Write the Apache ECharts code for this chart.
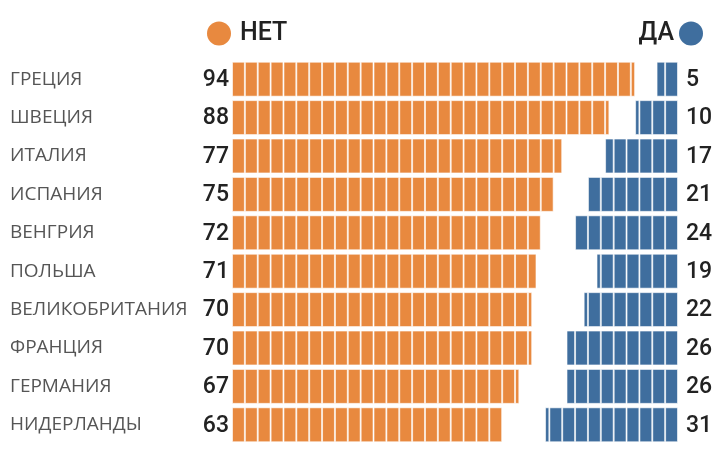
<!DOCTYPE html>
<html>
<head>
<meta charset="utf-8">
<script src="https://cdn.jsdelivr.net/npm/echarts@6/dist/echarts.min.js"></script>
<style>
  html, body { margin: 0; padding: 0; background: #fff; }
  #main { width: 713px; height: 449px; }
</style>
</head>
<body>
<div id="main"></div>
<script>
// страны сверху вниз
var countries = ['ГРЕЦИЯ', 'ШВЕЦИЯ', 'ИТАЛИЯ', 'ИСПАНИЯ', 'ВЕНГРИЯ', 'ПОЛЬША',
    'ВЕЛИКОБРИТАНИЯ', 'ФРАНЦИЯ', 'ГЕРМАНИЯ', 'НИДЕРЛАНДЫ'];
var netValues = [94, 88, 77, 75, 72, 71, 70, 70, 67, 63];
var daValues = [5, 10, 17, 21, 24, 19, 22, 26, 26, 31];

var axisMax = 104;
var step = 3; // одна плашка = 3 пункта
var font = 'Roboto';

// рисуем полосу из плашек по step пунктов
function makeRender(color, labelSide) {
    return function (params, api) {
        var value = api.value(0);
        var idx = api.value(1);
        var h = api.size([0, 1])[1] * 0.91;
        var children = [];
        for (var s = 0; s < value; s += step) {
            var e = Math.min(s + step, value);
            var p0 = api.coord([s, idx]);
            var p1 = api.coord([e, idx]);
            var x0 = Math.min(p0[0], p1[0]);
            children.push({
                type: 'rect',
                shape: { x: x0 + 0.5, y: p0[1] - h / 2 + 0.5, width: Math.abs(p1[0] - p0[0]) - 1, height: h - 1 },
                style: { fill: color, stroke: 'rgba(255,255,255,0.6)', lineWidth: 1 }
            });
        }
        var base = api.coord([0, idx]);
        children.push({
            type: 'text',
            x: labelSide === 'left' ? base[0] - 3 : base[0] + 8,
            y: base[1] + 1,
            style: {
                text: String(value),
                align: labelSide === 'left' ? 'right' : 'left',
                verticalAlign: 'middle',
                fontSize: 23, fontWeight: 500, fill: '#222', fontFamily: font
            }
        });
        return { type: 'group', children: children };
    };
}

var MyCharts = {
    getChart: function () {
        var myChart = echarts.init(document.getElementById('main'));
        var option = {
            backgroundColor: '#fff',
            color: ['#E8893F', '#3F6E9E'],
            textStyle: { fontFamily: font },
            legend: [{
                data: ['НЕТ'],
                left: 202, top: 16,
                icon: 'circle', itemWidth: 24, itemHeight: 24,
                textStyle: { fontSize: 25, fontWeight: 500, color: '#222', fontFamily: font, padding: [0, 0, 0, 4] }
            }, {
                data: ['ДА'],
                right: 5, top: 16, align: 'right',
                icon: 'circle', itemWidth: 24, itemHeight: 24,
                textStyle: { fontSize: 25, fontWeight: 500, color: '#222', fontFamily: font }
            }],
            grid: { left: 232, right: 35, top: 60, bottom: 5, containLabel: false },
            xAxis: [
                { type: 'value', min: 0, max: axisMax, show: false },
                { type: 'value', min: 0, max: axisMax, inverse: true, show: false }
            ],
            yAxis: {
                type: 'category', data: countries, inverse: true,
                axisLine: { show: false }, axisTick: { show: false },
                axisLabel: {
                    align: 'left', margin: 222, fontSize: 19, color: '#555', fontFamily: 'Open Sans'
                }
            },
            series: [{
                name: 'НЕТ',
                type: 'custom',
                xAxisIndex: 0,
                encode: { x: 0, y: 1 },
                data: netValues.map(function (v, i) { return [v, i]; }),
                renderItem: makeRender('#E8893F', 'left')
            }, {
                name: 'ДА',
                type: 'custom',
                xAxisIndex: 1,
                encode: { x: 0, y: 1 },
                data: daValues.map(function (v, i) { return [v, i]; }),
                renderItem: makeRender('#3F6E9E', 'right')
            }]
        };
        myChart.setOption(option);
    }
};

MyCharts.getChart();
</script>
</body>
</html>
